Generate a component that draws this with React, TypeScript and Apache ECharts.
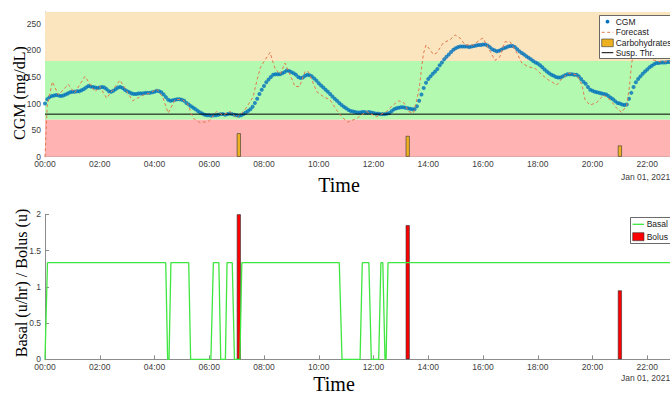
import React, { useEffect, useRef } from "react";
import * as echarts from "echarts";

// ---------- data ----------
const hourTicks = [0, 2, 4, 6, 8, 10, 12, 14, 16, 18, 20, 22, 24];
const cgmTicks = [0, 50, 100, 150, 200, 250];
const insulinTicks = [0, 0.5, 1, 1.5, 2];
const cgmAxisMax = 272;
const insulinAxisMax = 2;
const hypoLimit = 70;
const hyperLimit = 180;
const suspThreshold = 80;
const cgmStepMinutes = 5;

// CGM readings every 5 minutes from 00:00
const cgmValues = [
  100, 108, 112, 114, 115, 116, 115, 114, 115, 117, 119, 121,
  122, 122, 123, 123, 125, 127, 130, 133, 132, 131, 130, 129,
  130, 131, 130, 127, 123, 122, 124, 127, 130, 131, 129, 126,
  123, 121, 119, 118, 118, 119, 119, 119, 120, 120, 120, 121,
  122, 124, 123, 121, 117, 112, 107, 105, 106, 107, 108, 108,
  107, 105, 101, 98, 95, 92, 89, 86, 83, 81, 79, 78,
  78, 77, 78, 78, 79, 80, 80, 79, 80, 81, 80, 79,
  78, 77, 78, 80, 83, 86, 89, 94, 101, 109, 118, 126,
  133, 140, 145, 150, 154, 155, 155, 155, 157, 159, 162, 161,
  159, 157, 154, 150, 148, 149, 152, 154, 153, 151, 147, 143,
  138, 134, 130, 126, 122, 118, 113, 109, 105, 101, 97, 94,
  91, 88, 86, 85, 84, 83, 83, 84, 84, 83, 84, 83,
  82, 81, 81, 80, 80, 80, 81, 82, 86, 89, 91, 92,
  93, 93, 92, 91, 90, 89, 89, 95, 105, 117, 129, 139,
  146, 151, 156, 160, 165, 172, 177, 183, 188, 192, 197, 201,
  204, 206, 207, 207, 207, 207, 206, 207, 208, 209, 210, 210,
  211, 211, 209, 206, 202, 200, 198, 199, 201, 204, 205, 207,
  208, 208, 206, 202, 198, 195, 192, 189, 186, 183, 180, 177,
  175, 172, 168, 164, 160, 157, 154, 152, 150, 149, 149, 151,
  153, 155, 155, 155, 154, 154, 151, 146, 141, 137, 131, 126,
  124, 122, 121, 120, 119, 118, 117, 114, 111, 108, 104, 101,
  100, 98, 97, 98, 109, 120, 131, 140, 146, 151, 156, 160,
  164, 168, 171, 174, 176, 176, 177, 177, 177, 178, 178, 178,
  178, 178, 177, 177, 176, 176, 175, 175, 174, 174, 173, 173,
];

const forecastHours = [
  0, 0.08, 0.27, 0.49, 0.85, 1.08, 1.46, 1.83, 2.0, 2.25, 2.74, 3.2, 3.59, 3.85, 4.08, 4.3,
  4.5, 4.75, 5.0, 5.2, 5.42, 5.66, 5.97, 6.27, 6.5, 6.76, 7.0, 7.3, 7.6, 7.75, 7.87, 8.0,
  8.22, 8.4, 8.59, 8.77, 9.0, 9.13, 9.3, 9.5, 9.62, 9.93, 10.17, 10.41, 10.65, 10.84, 11.05,
  11.39, 11.75, 12.1, 12.48, 12.67, 12.91, 13.1, 13.28, 13.46, 13.58, 13.68, 13.76, 13.83,
  13.92, 14.07, 14.19, 14.31, 14.55, 14.8, 14.98, 15.16, 15.35, 15.65, 15.89, 16.0, 16.26,
  16.44, 16.62, 16.8, 16.99, 17.24, 17.42, 17.66, 17.9, 18.15, 18.4, 18.7, 18.9, 19.12,
  19.43, 19.61, 19.73, 19.91, 20.16, 20.4, 20.64, 20.89, 21.07, 21.25, 21.35, 21.43, 21.55,
  21.75, 22.0, 22.2, 22.5, 22.84, 23.5, 24,
];
const forecastValues = [
  0, 95, 141, 116, 136, 120, 151, 122, 132, 110, 144, 105, 116, 120, 127, 112,
  82, 107, 108, 100, 72, 64, 66, 85, 78, 85, 73, 88, 112, 145, 168, 179,
  196, 166, 155, 176, 148, 132, 132, 160, 160, 122, 113, 107, 88, 75, 65,
  72, 85, 75, 85, 95, 105, 102, 85, 82, 107, 132, 169, 195,
  210, 201, 192, 195, 214, 220, 229, 223, 210, 210, 220, 223, 198,
  181, 188, 216, 216, 195, 176, 169, 166, 154, 144, 135, 148, 157,
  154, 135, 107, 97, 102, 116, 107, 91, 83, 97, 132, 176, 205,
  205, 190, 182, 178, 179, 176, 175,
];

const carbHours = [7.08, 13.25, 21.0];
const carbGrams = [44, 39, 21];

const bolusHours = [7.08, 13.25, 21.0];
const bolusUnits = [2.0, 1.85, 0.95];

const basalHours = [
  0, 0.09, 4.41, 4.48, 4.53, 4.6, 5.25, 5.32, 6.06, 6.15, 6.35, 6.42, 6.59, 6.65, 6.84, 6.92,
  7.12, 7.19, 10.75, 10.85, 11.51, 11.59, 11.83, 11.92, 12.19, 12.27, 12.34, 12.42, 12.46,
  12.53, 24,
];
const basalRates = [
  0, 1.333, 1.333, 0, 0, 1.333, 1.333, 0, 0, 1.333, 1.333, 0, 0, 1.333, 1.333, 0,
  0, 1.333, 1.333, 0, 0, 1.333, 1.333, 0, 0, 1.333, 1.333, 0, 0,
  1.333, 1.333,
];

// ---------- styling ----------
const SANS = '"Liberation Sans", Arial, Helvetica, sans-serif';
const SERIF = '"Liberation Serif", "Times New Roman", serif';
const AXIS_GRAY = "#8c8c8c";
const LABEL_GRAY = "#404040";
const CGM_BLUE = "#0072BD";
const FORECAST_ORANGE = "#E27A4E";
const CARB_YELLOW = "#EDB120";
const BASAL_GREEN = "#3fe63f";
const BOLUS_RED = "#ff0000";

const fmtHour = (v: number) => (v < 10 ? "0" : "") + v + ":00";

function xAxisFor(gridIndex: number) {
  return {
    type: "value",
    gridIndex,
    min: hourTicks[0],
    max: hourTicks[hourTicks.length - 1],
    interval: 2,
    axisLine: { show: true, lineStyle: { color: AXIS_GRAY, width: 1 } },
    axisTick: { show: true, inside: true, length: 4, lineStyle: { color: AXIS_GRAY } },
    axisLabel: {
      color: LABEL_GRAY,
      fontSize: 8.5,
      fontFamily: SANS,
      margin: 3,
      formatter: (v: number) => fmtHour(v),
    },
    splitLine: { show: false },
  };
}

export default function App() {
  const ref = useRef<HTMLDivElement>(null);

  useEffect(() => {
    if (!ref.current) return;
    const chart = echarts.init(ref.current, undefined, { renderer: "svg" });

    const cgmData = cgmValues.map((v, i) => [(i * cgmStepMinutes) / 60, v]);
    const forecastData = forecastHours.map((h, i) => [h, forecastValues[i]]);
    const carbData = carbHours.map((h, i) => [h, carbGrams[i]]);
    const bolusData = bolusHours.map((h, i) => [h, bolusUnits[i]]);
    const basalData = basalHours.map((h, i) => [h, basalRates[i]]);

    const legendText = (x: number, y: number, text: string) => ({
      type: "text",
      x,
      y,
      z: 101,
      style: { text, fill: "#1a1a1a", fontSize: 8.5, fontFamily: SANS, verticalAlign: "middle", align: "left" },
    });

    const option: any = {
      animation: false,
      grid: [
        { left: 45, top: 12, width: 657, height: 144.7, containLabel: false, outerBoundsMode: "none" },
        { left: 45, top: 214.3, width: 657, height: 145, containLabel: false, outerBoundsMode: "none" },
      ],
      xAxis: [xAxisFor(0), xAxisFor(1)],
      yAxis: [
        {
          type: "value",
          gridIndex: 0,
          min: 0,
          max: cgmAxisMax,
          axisLine: { show: true, lineStyle: { color: AXIS_GRAY, width: 1 } },
          axisTick: { show: true, inside: true, length: 4, lineStyle: { color: AXIS_GRAY }, customValues: cgmTicks },
          axisLabel: { color: LABEL_GRAY, fontSize: 8.5, fontFamily: SANS, margin: 4, customValues: cgmTicks },
          splitLine: { show: false },
        },
        {
          type: "value",
          gridIndex: 1,
          min: 0,
          max: insulinAxisMax,
          interval: 0.5,
          axisLine: { show: true, lineStyle: { color: AXIS_GRAY, width: 1 } },
          axisTick: { show: true, inside: true, length: 4, lineStyle: { color: AXIS_GRAY }, customValues: insulinTicks },
          axisLabel: { color: LABEL_GRAY, fontSize: 8.5, fontFamily: SANS, margin: 4, customValues: insulinTicks },
          splitLine: { show: false },
        },
      ],
      series: [
        {
          name: "Susp. Thr.",
          type: "line",
          xAxisIndex: 0,
          yAxisIndex: 0,
          data: [
            [hourTicks[0], suspThreshold],
            [hourTicks[hourTicks.length - 1], suspThreshold],
          ],
          symbol: "none",
          lineStyle: { color: "#000", width: 1 },
          silent: true,
          markArea: {
            silent: true,
            label: { show: false },
            data: [
              [{ yAxis: 0, itemStyle: { color: "#FFB3B3" } }, { yAxis: hypoLimit }],
              [{ yAxis: hypoLimit, itemStyle: { color: "#B3F9B0" } }, { yAxis: hyperLimit }],
              [{ yAxis: hyperLimit, itemStyle: { color: "#FAE5BF" } }, { yAxis: cgmAxisMax }],
            ],
          },
        },
        {
          name: "Carbohydrates",
          type: "bar",
          xAxisIndex: 0,
          yAxisIndex: 0,
          data: carbData,
          barWidth: 4,
          itemStyle: { color: CARB_YELLOW, borderColor: "#333", borderWidth: 0.6 },
          silent: true,
        },
        {
          name: "Forecast",
          type: "line",
          xAxisIndex: 0,
          yAxisIndex: 0,
          data: forecastData,
          symbol: "none",
          lineStyle: { color: FORECAST_ORANGE, width: 1, type: [3, 2.5] },
          silent: true,
        },
        {
          name: "CGM",
          type: "scatter",
          xAxisIndex: 0,
          yAxisIndex: 0,
          data: cgmData,
          symbolSize: 4,
          itemStyle: { color: CGM_BLUE },
          silent: true,
        },
        {
          name: "Basal",
          type: "line",
          xAxisIndex: 1,
          yAxisIndex: 1,
          data: basalData,
          symbol: "none",
          lineStyle: { color: BASAL_GREEN, width: 1.3 },
          silent: true,
        },
        {
          name: "Bolus",
          type: "bar",
          xAxisIndex: 1,
          yAxisIndex: 1,
          data: bolusData,
          barWidth: 4,
          itemStyle: { color: BOLUS_RED, borderColor: "#333", borderWidth: 0.6 },
          silent: true,
        },
      ],
      graphic: [
        // axis titles
        {
          type: "text", x: 19, y: 93, rotation: Math.PI / 2, z: 100,
          style: { text: "CGM (mg/dL)", fontSize: 16, fontFamily: SERIF, fill: "#000", align: "center", verticalAlign: "middle" },
        },
        {
          type: "text", x: 21, y: 283, rotation: Math.PI / 2, z: 100,
          style: { text: "Basal (u/hr) / Bolus (u)", fontSize: 16, fontFamily: SERIF, fill: "#000", align: "center", verticalAlign: "middle" },
        },
        {
          type: "text", x: 339, y: 185, z: 100,
          style: { text: "Time", fontSize: 20, fontFamily: SERIF, fill: "#000", align: "center", verticalAlign: "middle" },
        },
        {
          type: "text", x: 334, y: 384, z: 100,
          style: { text: "Time", fontSize: 20, fontFamily: SERIF, fill: "#000", align: "center", verticalAlign: "middle" },
        },
        {
          type: "text", x: 621, y: 176.7, z: 100,
          style: { text: "Jan 01, 2021", fontSize: 8.5, fontFamily: SANS, fill: LABEL_GRAY, align: "left", verticalAlign: "middle" },
        },
        {
          type: "text", x: 621, y: 378.3, z: 100,
          style: { text: "Jan 01, 2021", fontSize: 8.5, fontFamily: SANS, fill: LABEL_GRAY, align: "left", verticalAlign: "middle" },
        },
        // top legend
        {
          type: "rect", z: 100,
          shape: { x: 599.5, y: 15.5, width: 90, height: 43 },
          style: { fill: "#fff", stroke: "#444", lineWidth: 0.8 },
        },
        { type: "circle", z: 101, shape: { cx: 607.5, cy: 21.7, r: 1.9 }, style: { fill: CGM_BLUE } },
        {
          type: "line", z: 101,
          shape: { x1: 601.7, y1: 32.3, x2: 613.3, y2: 32.3 },
          style: { stroke: FORECAST_ORANGE, lineWidth: 1, lineDash: [3, 2.5] },
        },
        {
          type: "rect", z: 101,
          shape: { x: 601.7, y: 39, width: 11.6, height: 7.7 },
          style: { fill: CARB_YELLOW, stroke: "#333", lineWidth: 0.6 },
        },
        {
          type: "line", z: 101,
          shape: { x1: 601.7, y1: 52.7, x2: 613.3, y2: 52.7 },
          style: { stroke: "#000", lineWidth: 1 },
        },
        legendText(615.7, 21.7, "CGM"),
        legendText(615.7, 32.3, "Forecast"),
        legendText(615.7, 42.7, "Carbohydrates"),
        legendText(615.7, 52.7, "Susp. Thr."),
        // bottom legend
        {
          type: "rect", z: 100,
          shape: { x: 630.5, y: 217.5, width: 60, height: 26 },
          style: { fill: "#fff", stroke: "#444", lineWidth: 0.8 },
        },
        {
          type: "line", z: 101,
          shape: { x1: 632.7, y1: 224.3, x2: 644, y2: 224.3 },
          style: { stroke: BASAL_GREEN, lineWidth: 1.3 },
        },
        {
          type: "rect", z: 101,
          shape: { x: 632.7, y: 232.7, width: 11.3, height: 8 },
          style: { fill: BOLUS_RED, stroke: "#333", lineWidth: 0.6 },
        },
        legendText(646.7, 224.3, "Basal"),
        legendText(646.7, 236.7, "Bolus"),
      ],
    };

    chart.setOption(option);
    return () => chart.dispose();
  }, []);

  return (
    <div
      ref={ref}
      style={{ position: "fixed", left: 0, top: 0, width: 670, height: 393, overflow: "hidden", background: "#fff" }}
    />
  );
}
